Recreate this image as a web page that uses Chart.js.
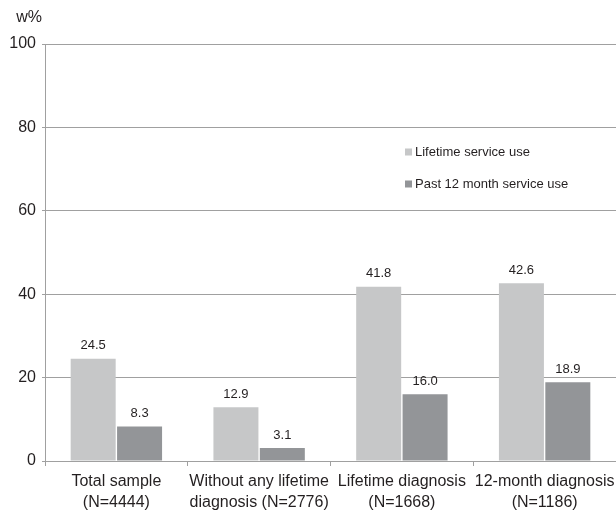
<!DOCTYPE html>
<html>
<head>
<meta charset="utf-8">
<script src="https://cdn.jsdelivr.net/npm/chart.js@4"></script>
<style>
  html, body { margin: 0; padding: 0; background: #fff; }
  #wrap { width: 616px; height: 511px; }
</style>
</head>
<body>
<div id="wrap"><canvas id="chart"></canvas></div>
<script>
// dados do grafico
var categorias = [
    ['Total sample', '(N=4444)'],
    ['Without any lifetime', 'diagnosis (N=2776)'],
    ['Lifetime diagnosis', '(N=1668)'],
    ['12-month diagnosis', '(N=1186)']
]
var lifetimeUse = [24.5, 12.9, 41.8, 42.6]
var past12Use = [8.3, 3.1, 16.0, 18.9]
var nomesSeries = ['Lifetime service use', 'Past 12 month service use']
var yTicks = [0, 20, 40, 60, 80, 100]
var tituloY = 'w%'

var corClara = '#c6c7c8'
var corEscura = '#939598'
var corTexto = '#231f20'
var fonte = '"Liberation Sans", Arial, sans-serif'

// desenha rotulos, legenda e titulo do eixo
var extras = {
    id: 'extras',
    afterDatasetsDraw(chart) {
        const ctx = chart.ctx
        ctx.save()
        ctx.fillStyle = corTexto
        ctx.font = '13px ' + fonte
        ctx.textAlign = 'center'
        ctx.textBaseline = 'middle'
        chart.data.datasets.forEach((ds, i) => {
            chart.getDatasetMeta(i).data.forEach((bar, j) => {
                ctx.fillText(ds.data[j].toFixed(1), bar.x, bar.y - 13)
            })
        })
        // legenda
        const lx = 405
        const ly = [152, 184]
        ctx.textAlign = 'left'
        chart.data.datasets.forEach((ds, i) => {
            ctx.fillStyle = ds.backgroundColor
            ctx.fillRect(lx, ly[i] - 3.5, 7, 7)
            ctx.fillStyle = corTexto
            ctx.fillText(ds.label, lx + 10, ly[i] + 0.5)
        })
        // titulo do eixo y
        ctx.font = '16px ' + fonte
        ctx.textAlign = 'right'
        ctx.fillText(tituloY, chart.scales.y.left + 42, 18)
        ctx.restore()
    }
}

var grafico = new Chart(document.getElementById('chart'), {
    type: 'bar',
    data: {
        labels: categorias,
        datasets: [{
            label: nomesSeries[0],
            data: lifetimeUse,
            backgroundColor: corClara
        }, {
            label: nomesSeries[1],
            data: past12Use,
            backgroundColor: corEscura
        }]
    },
    options: {
        responsive: true,
        maintainAspectRatio: false,
        animation: false,
        layout: { padding: { top: 44, right: 0, left: 0, bottom: 0 } },
        categoryPercentage: 0.65,
        barPercentage: 0.97,
        plugins: {
            legend: { display: false },
            tooltip: { enabled: false }
        },
        scales: {
            x: {
                afterFit(scale) {
                    scale.height = 50
                    scale.paddingRight = 0
                    scale.paddingLeft = 0
                },
                grid: {
                    display: true,
                    drawOnChartArea: false,
                    tickLength: 5,
                    color: '#a0a0a0'
                },
                border: { color: '#a0a0a0' },
                ticks: {
                    color: corTexto,
                    font: { family: fonte, size: 16, lineHeight: 1.31 },
                    maxRotation: 0,
                    autoSkip: false,
                    padding: 5
                }
            },
            y: {
                min: 0,
                max: 100,
                afterBuildTicks(scale) {
                    scale.ticks = yTicks.map(v => ({ value: v }))
                },
                afterFit(scale) { scale.width = 45 },
                grid: {
                    color: '#a0a0a0',
                    tickLength: 3
                },
                border: { color: '#a0a0a0' },
                ticks: {
                    color: corTexto,
                    font: { family: fonte, size: 16 },
                    padding: 6
                }
            }
        }
    },
    plugins: [extras]
})
</script>
</body>
</html>
